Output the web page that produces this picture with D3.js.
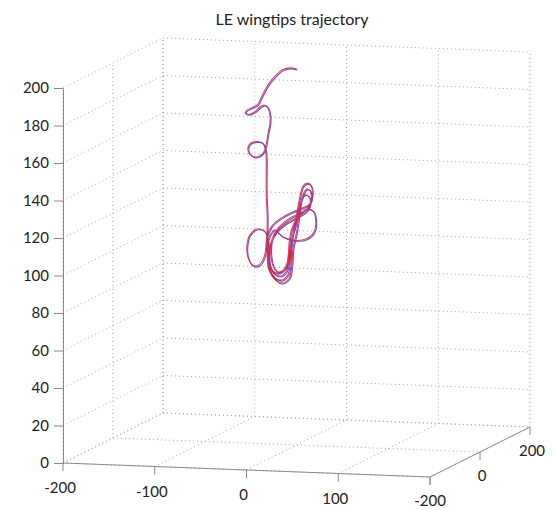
<!DOCTYPE html>
<html>
<head>
<meta charset="utf-8">
<script src="https://cdn.jsdelivr.net/npm/d3@7"></script>
<style>
  body { margin: 0; background: #fff; }
  svg { display: block; font-family: Lato, "Liberation Sans", sans-serif; }
  .grid { fill: none; stroke: #a8a8a8; stroke-width: 1; stroke-dasharray: 1,3; }
  .axis-line { stroke: #8a8a8a; stroke-width: 1; fill: none; }
  .tick-label { font-size: 15px; fill: #222; }
</style>
</head>
<body>
<div id="chart"></div>
<script>
// Ticks
const xTicks = [-200, -100, 0, 100, 200];
const xTickLabels = ["-200", "-100", "0", "100", ""];
const yTicks = [-200, 0, 200];
const yTickLabels = ["-200", "0", "200"];
const zTicks = [0, 20, 40, 60, 80, 100, 120, 140, 160, 180, 200];

// Wingtip trajectories (x, z); both lie on y = 0
const wingY = 0;
const redX = [0, -7, -15, -22, -29, -34, -39, -42,
  -47, -54, -56, -52, -45, -40, -35, -31, -29, -29,
  -31, -33, -36, -43, -49, -53, -51, -44, -37, -34, -33,
  -33, -33, -32, -32,
  -33, -35, -41, -48, -53, -54, -51, -43, -35,
  -31, -31, -29, -23, -16, -9, -7, -6, -3, 1, 4, 7, 12, 16, 17, 14, 6, -5, -17, -27,
  -32, -32, -30, -25, -18, -11, -8, -6, -1, 3, 7, 11, 15, 16, 12, 3, -9, -20,
  -27, -28, -25, -20, -12, -9, -8, -5, 2, 11, 18, 21, 19, 10, -4, -16, -24,
  -31, -32, -30, -23, -16, -8, -5, -4, 0, 3, 5, 8, 13, 15, 11, 1, -11, -22,
  -29, -30, -28, -22, -15, -10, -8];
const redZ = [200.5, 201, 200, 197, 193, 189, 184, 181,
  179.4, 177.6, 176, 175.3, 177, 179.5, 180.6, 179.1, 175.5, 170.7,
  165.8, 159.9, 155.3, 152.8, 153.4, 156.3, 159.6, 161, 160.3, 157.2, 152.4,
  146, 132.7, 122.1, 115.1,
  107.6, 100.1, 95.2, 95.1, 99.2, 105.6, 111, 114.4, 113.4,
  107.7, 99.1, 92.8, 88.6, 87.7, 91, 96.4, 104.9, 115.6, 125.3, 133.4, 138.2, 139.9, 138.4, 133.6, 128.7, 126.4, 124.1, 120.7, 116.3,
  110.9, 102.3, 95.9, 91.2, 89.8, 92.5, 99.5, 108.1, 117.8, 126.9, 133.4, 136.7, 135.7, 131.5, 126.6, 123.7, 120.3, 115.4,
  108.8, 101.3, 94.4, 91.9, 94.1, 101.1, 108, 115.6, 122.1, 126, 125.1, 119.8, 113.9, 110, 109.2, 111.1, 114.2,
  108.7, 100.2, 92.7, 87.6, 86.1, 88.8, 95.8, 103.9, 113.5, 123.2, 130.2, 133.4, 133, 129.3, 125, 121.5, 118.1, 113.2,
  106.1, 99.1, 93.9, 91.3, 92.5, 97.4, 103.8];
const blueX = [1, -6, -14, -21, -28, -33, -38, -41,
  -46, -53, -55, -51, -44, -39, -34, -30, -28, -28,
  -30, -32, -35, -42, -48, -52, -50, -43, -36, -33, -32,
  -32, -32, -31, -31,
  -32, -34, -40, -47, -52, -53, -50, -42, -34,
  -30, -30, -28, -22, -15, -8, -6, -5, -2, 2, 5, 8, 13, 17, 18, 15, 7, -4, -16, -26,
  -31, -31, -29, -24, -17, -10, -7, -5, 0, 4, 8, 12, 16, 17, 13, 4, -8, -19,
  -26, -27, -24, -19, -11, -8, -7, -4, 3, 12, 19, 22, 20, 11, -3, -15, -23,
  -30, -31, -29, -22, -15, -7, -4, -3, 1, 4, 6, 9, 14, 16, 12, 2, -10, -21,
  -28, -29, -27, -21, -14, -9, -7];
const blueZ = [200, 200.5, 199.5, 196.5, 192.5, 188.5, 183.5, 180.5,
  179, 177.2, 175.8, 175, 176.6, 179, 180.2, 178.8, 175.2, 170.4,
  165.5, 159.5, 155, 152.4, 153, 155.9, 159.2, 160.6, 159.9, 156.8, 152,
  145.6, 132.4, 121.8, 114.8,
  107.2, 99.6, 94.6, 94.5, 98.8, 105.2, 110.6, 114, 113,
  107.3, 98.6, 92.2, 88, 87.2, 90.6, 96, 104.6, 115.2, 125, 133, 137.8, 139.4, 138, 133.2, 128.3, 126, 123.7, 120.3, 116,
  110.5, 101.8, 95.4, 90.7, 89.3, 92.1, 99.1, 107.8, 117.4, 126.5, 133, 136.3, 135.3, 131.1, 126.2, 123.3, 119.9, 115,
  108.4, 100.8, 93.9, 91.4, 93.7, 100.7, 107.6, 115.2, 121.7, 125.6, 124.7, 119.4, 113.5, 109.6, 108.8, 110.7, 113.8,
  108.3, 99.7, 92.2, 87.1, 85.6, 88.4, 95.4, 103.5, 113.1, 122.8, 129.8, 133, 132.6, 128.9, 124.6, 121.1, 117.7, 112.8,
  105.7, 98.7, 93.4, 90.8, 92.1, 97, 103.4];

const WIDTH = 555;
const HEIGHT = 510;

// 3D -> screen scales (oblique projection of the axes box)
const originX = 63;
const xToSx = d3.scaleLinear().domain([-200, 200]).range([0, 367]);
const xToSy = d3.scaleLinear().domain([-200, 200]).range([0, 14]);
const yToSx = d3.scaleLinear().domain([-200, 200]).range([0, 100]);
const yToSy = d3.scaleLinear().domain([-200, 200]).range([0, -50]);
const zToSy = d3.scaleLinear().domain([0, 200]).range([463, 88]);

const project = (x, y, z) => [
  originX + xToSx(x) + yToSx(y),
  zToSy(z) + xToSy(x) + yToSy(y),
];

const svg = d3
  .select("#chart")
  .append("svg")
  .attr("width", WIDTH)
  .attr("height", HEIGHT);

// Title
svg
  .append("text")
  .attr("x", 292)
  .attr("y", 25)
  .attr("text-anchor", "middle")
  .style("font-size", "16px")
  .style("fill", "#222")
  .text("LE wingtips trajectory");

// Grid segments on back wall, left wall and floor
const segs = [];
zTicks.forEach((z) => {
  segs.push([[-200, 200, z], [200, 200, z]]);
  segs.push([[-200, -200, z], [-200, 200, z]]);
});
xTicks.forEach((x) => {
  segs.push([[x, 200, 0], [x, 200, 200]]);
  segs.push([[x, -200, 0], [x, 200, 0]]);
});
yTicks.forEach((y) => {
  segs.push([[-200, y, 0], [-200, y, 200]]);
  segs.push([[-200, y, 0], [200, y, 0]]);
});

const line = d3.line();

svg
  .append("g")
  .selectAll("path")
  .data(segs)
  .enter()
  .append("path")
  .attr("class", "grid")
  .attr("d", (s) => line(s.map((p) => project(p[0], p[1], p[2]))));

// z axis
svg
  .append("g")
  .attr("transform", "translate(" + originX + ",0)")
  .call(d3.axisLeft(zToSy).tickValues(zTicks).tickSize(9).tickSizeOuter(0).tickPadding(5))
  .call((g) => g.select(".domain").attr("stroke", "#8a8a8a"))
  .call((g) => g.selectAll(".tick line").attr("stroke", "#8a8a8a"))
  .call((g) =>
    g.selectAll(".tick text")
      .attr("fill", "#222")
      .style("font-size", "15px")
      .style("font-family", "Lato, 'Liberation Sans', sans-serif")
  );

// x axis (front floor edge)
const xa = svg.append("g");
xa.append("path")
  .attr("class", "axis-line")
  .attr("d", line([project(-200, -200, 0), project(200, -200, 0)]));
xTicks.forEach((x, i) => {
  const p = project(x, -200, 0);
  xa.append("line").attr("class", "axis-line")
    .attr("x1", p[0]).attr("y1", p[1]).attr("x2", p[0]).attr("y2", p[1] + 8);
  xa.append("text").attr("class", "tick-label")
    .attr("x", p[0] - 3).attr("y", p[1] + 30)
    .attr("text-anchor", "middle")
    .text(xTickLabels[i]);
});

// y axis (right floor edge)
const ya = svg.append("g");
ya.append("path")
  .attr("class", "axis-line")
  .attr("d", line([project(200, -200, 0), project(200, 200, 0)]));
yTicks.forEach((y, i) => {
  const p = project(200, y, 0);
  ya.append("line").attr("class", "axis-line")
    .attr("x1", p[0]).attr("y1", p[1]).attr("x2", p[0]).attr("y2", p[1] + 8);
  ya.append("text").attr("class", "tick-label")
    .attr("x", p[0] + (i === 0 ? 0 : 2)).attr("y", p[1] + 29)
    .attr("text-anchor", "middle")
    .text(yTickLabels[i]);
});

// Trajectories
const traj = d3.line().curve(d3.curveCatmullRom.alpha(0.5));
const series = [
  { xs: blueX, zs: blueZ, color: "#3b3bd6" },
  { xs: redX, zs: redZ, color: "#e4213c" },
];
svg
  .append("g")
  .selectAll("path")
  .data(series)
  .enter()
  .append("path")
  .attr("fill", "none")
  .attr("stroke", (s) => s.color)
  .attr("stroke-width", 1.1)
  .attr("stroke-opacity", 0.85)
  .attr("d", (s) => traj(s.xs.map((x, i) => project(x, wingY, s.zs[i]))));
</script>
</body>
</html>
